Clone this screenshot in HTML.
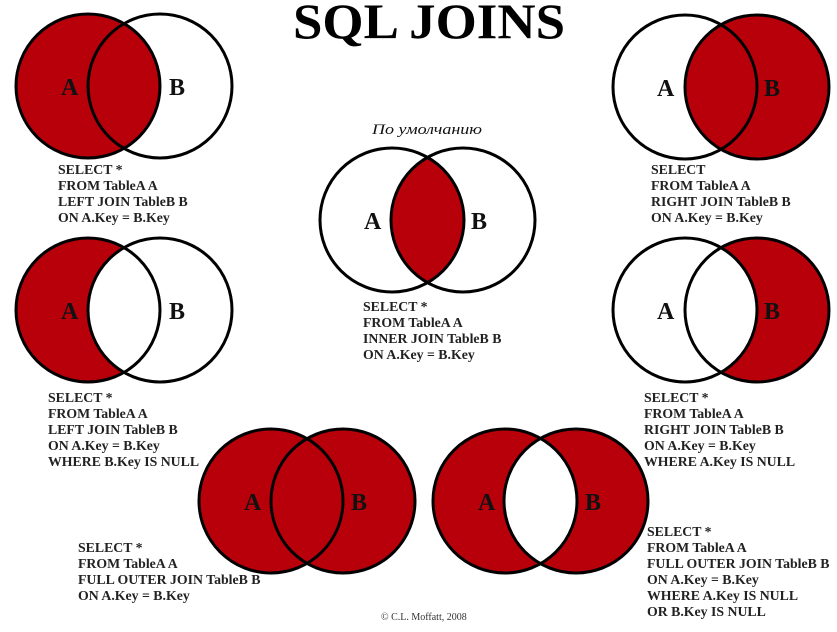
<!DOCTYPE html>
<html><head><meta charset="utf-8"><style>
html,body{margin:0;padding:0;background:#fff;}
svg{display:block;}
.t{font-family:"Liberation Serif",serif;font-weight:bold;font-size:13.8px;fill:#222;}
.l{font-family:"Liberation Serif",serif;font-weight:bold;font-size:24px;fill:#111;}
</style></head><body>
<svg width="837" height="632" viewBox="0 0 837 632" xmlns="http://www.w3.org/2000/svg">
<defs>
<clipPath id="c3"><circle cx="392" cy="220" r="72"/></clipPath>
<clipPath id="c7"><circle cx="505" cy="501" r="72"/></clipPath>
</defs>
<g stroke="none">
<circle cx="88" cy="86" r="72" fill="#b8000b"/>
<circle cx="757" cy="87" r="72" fill="#b8000b"/>
<circle cx="463" cy="220" r="72" fill="#b8000b" clip-path="url(#c3)"/>
<circle cx="88" cy="310" r="72" fill="#b8000b"/>
<circle cx="160" cy="310" r="72" fill="#fff"/>
<circle cx="757" cy="310" r="72" fill="#b8000b"/>
<circle cx="685" cy="310" r="72" fill="#fff"/>
<circle cx="271" cy="501" r="72" fill="#b8000b"/>
<circle cx="343" cy="501" r="72" fill="#b8000b"/>
<circle cx="505" cy="501" r="72" fill="#b8000b"/>
<circle cx="576" cy="501" r="72" fill="#b8000b"/>
<circle cx="576" cy="501" r="72" fill="#fff" clip-path="url(#c7)"/>
</g>
<g fill="none" stroke="#000" stroke-width="3">
<circle cx="88" cy="86" r="72"/><circle cx="160" cy="86" r="72"/>
<circle cx="685" cy="87" r="72"/><circle cx="757" cy="87" r="72"/>
<circle cx="392" cy="220" r="72"/><circle cx="463" cy="220" r="72"/>
<circle cx="88" cy="310" r="72"/><circle cx="160" cy="310" r="72"/>
<circle cx="685" cy="310" r="72"/><circle cx="757" cy="310" r="72"/>
<circle cx="271" cy="501" r="72"/><circle cx="343" cy="501" r="72"/>
<circle cx="505" cy="501" r="72"/><circle cx="576" cy="501" r="72"/>
</g>
<text x="293" y="38" textLength="272" lengthAdjust="spacingAndGlyphs" style="font-family:'Liberation Serif',serif;font-weight:bold;font-size:50px;fill:#000">SQL JOINS</text>
<text x="372" y="134" textLength="110" lengthAdjust="spacingAndGlyphs" style="font-family:'Liberation Serif',serif;font-style:italic;font-size:15px;fill:#111">По умолчанию</text>
<g class="l">
<text x="61" y="95">A</text><text x="169" y="95">B</text>
<text x="657" y="96">A</text><text x="764" y="96">B</text>
<text x="364" y="229">A</text><text x="471" y="229">B</text>
<text x="61" y="319">A</text><text x="169" y="319">B</text>
<text x="657" y="319">A</text><text x="764" y="319">B</text>
<text x="244" y="510">A</text><text x="351" y="510">B</text>
<text x="478" y="510">A</text><text x="585" y="510">B</text>
</g>
<g class="t">
<text x="58" y="174">SELECT *</text>
<text x="58" y="190">FROM TableA A</text>
<text x="58" y="206">LEFT JOIN TableB B</text>
<text x="58" y="222">ON A.Key = B.Key</text>

<text x="651" y="174">SELECT</text>
<text x="651" y="190">FROM TableA A</text>
<text x="651" y="206">RIGHT JOIN TableB B</text>
<text x="651" y="222">ON A.Key = B.Key</text>

<text x="363" y="311">SELECT *</text>
<text x="363" y="327">FROM TableA A</text>
<text x="363" y="343">INNER JOIN TableB B</text>
<text x="363" y="359">ON A.Key = B.Key</text>

<text x="48" y="402">SELECT *</text>
<text x="48" y="418">FROM TableA A</text>
<text x="48" y="434">LEFT JOIN TableB B</text>
<text x="48" y="450">ON A.Key = B.Key</text>
<text x="48" y="466">WHERE B.Key IS NULL</text>

<text x="644" y="402">SELECT *</text>
<text x="644" y="418">FROM TableA A</text>
<text x="644" y="434">RIGHT JOIN TableB B</text>
<text x="644" y="450">ON A.Key = B.Key</text>
<text x="644" y="466">WHERE A.Key IS NULL</text>

<text x="78" y="552">SELECT *</text>
<text x="78" y="568">FROM TableA A</text>
<text x="78" y="584">FULL OUTER JOIN TableB B</text>
<text x="78" y="600">ON A.Key = B.Key</text>

<text x="647" y="536">SELECT *</text>
<text x="647" y="552">FROM TableA A</text>
<text x="647" y="568">FULL OUTER JOIN TableB B</text>
<text x="647" y="584">ON A.Key = B.Key</text>
<text x="647" y="600">WHERE A.Key IS NULL</text>
<text x="647" y="616">OR B.Key IS NULL</text>
</g>
<text x="381" y="620" style="font-family:'Liberation Serif',serif;font-size:10px;fill:#333">© C.L. Moffatt, 2008</text>
</svg>
</body></html>
